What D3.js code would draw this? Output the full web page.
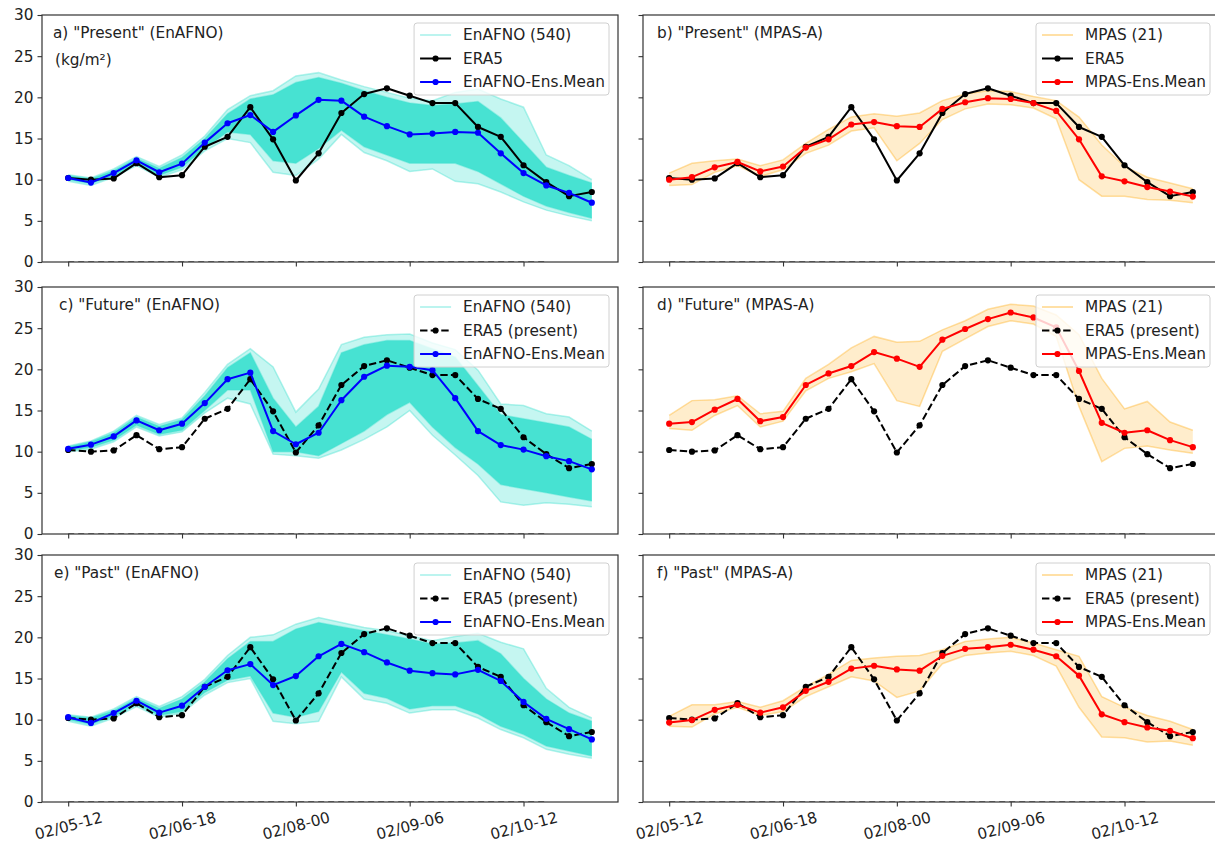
<!DOCTYPE html>
<html>
<head>
<meta charset="utf-8">
<script src="https://cdn.jsdelivr.net/npm/d3@7"></script>
<style>
  body { margin: 0; background: #fff; }
  svg text { font-family: "DejaVu Sans", sans-serif; fill: #222; }
</style>
</head>
<body>
<div id="plot"></div>
<script>
// time axis (6-hourly)
const timeLabels = ["02/05-12","02/05-18","02/06-00","02/06-06","02/06-12","02/06-18",
  "02/07-00","02/07-06","02/07-12","02/07-18","02/08-00","02/08-06","02/08-12","02/08-18",
  "02/09-00","02/09-06","02/09-12","02/09-18","02/10-00","02/10-06","02/10-12","02/10-18",
  "02/11-00","02/11-06"];
const xTickIdx = [0, 5, 10, 15, 20];
const yTicks = [0, 5, 10, 15, 20, 25, 30];
const zeroLine = [0,0,0,0,0,0,0,0,0,0,0,0,0,0,0,0,0,0,0,0,0,0];

// ERA5 (present), same in every panel
const era5 = [10.2,10.0,10.15,12.0,10.3,10.55,14.0,15.2,18.8,14.9,9.9,13.2,18.1,20.4,21.1,20.2,19.3,19.3,16.4,15.2,11.75,9.7,8.0,8.5];

// EnAFNO ensemble means
const enMeanPresent = [10.2,9.65,10.8,12.35,10.9,11.95,14.5,16.85,17.85,15.8,17.8,19.7,19.6,17.65,16.5,15.5,15.6,15.8,15.7,13.2,10.8,9.3,8.4,7.2];
const enMeanFuture  = [10.35,10.85,11.85,13.8,12.6,13.4,15.9,18.8,19.6,12.5,10.9,12.3,16.25,19.1,20.45,20.3,19.9,16.5,12.5,10.8,10.25,9.45,8.85,7.85];
const enMeanPast    = [10.3,9.6,10.8,12.3,10.85,11.7,14.0,16.0,16.75,14.2,15.3,17.7,19.2,18.2,16.95,15.95,15.65,15.5,16.05,14.7,12.15,10.1,8.85,7.6];

// EnAFNO member spread (outer extremes and dense core)
const enPresentHi     = [10.6,10.2,11.3,12.8,11.6,13.0,15.3,18.5,20.2,20.8,22.6,23.0,22.1,21.3,20.6,19.9,19.6,20.6,21.0,19.8,18.8,13.0,11.7,10.0];
const enPresentCoreHi = [10.5,10.1,11.1,12.6,11.4,12.7,15.0,18.0,19.8,20.3,21.8,22.4,21.7,20.8,20.0,19.3,19.0,19.2,19.5,17.5,14.5,11.5,10.5,9.6];
const enPresentCoreLo = [10.0,9.5,10.5,11.9,10.5,11.5,13.8,15.8,15.5,12.3,12.0,13.8,16.0,14.0,13.0,12.0,12.0,12.0,11.0,9.5,8.0,6.8,6.0,5.3];
const enPresentLo     = [9.8,9.3,10.3,11.7,10.3,11.2,13.5,15.0,14.5,10.9,10.5,12.5,15.5,13.3,12.3,11.0,11.3,9.8,9.5,8.5,7.3,6.3,5.6,5.0];

const enFutureHi     = [10.7,11.3,12.5,14.4,13.3,14.1,17.2,20.6,22.5,20.3,14.8,17.6,23.0,23.9,24.2,24.3,23.2,22.4,19.9,15.8,15.6,14.6,14.2,12.5];
const enFutureCoreHi = [10.6,11.2,12.3,14.2,13.1,13.9,16.8,20.2,22.0,16.5,13.0,15.5,22.0,23.0,23.5,23.5,22.5,21.5,18.0,14.5,14.0,13.5,13.0,11.5];
const enFutureCoreLo = [10.1,10.5,11.4,13.2,12.1,12.6,15.0,17.5,17.5,10.0,10.0,9.5,11.0,12.5,14.5,16.0,13.0,10.5,8.5,6.0,5.5,5.0,4.5,4.0];
const enFutureLo     = [10.0,10.3,11.2,13.0,11.9,12.4,14.7,16.5,15.8,9.7,9.5,9.2,10.2,11.5,13.0,15.0,12.0,9.6,7.1,3.9,3.5,3.8,3.6,3.3];

const enPastHi     = [10.6,10.3,11.3,12.8,11.6,12.8,14.9,17.8,20.0,20.3,21.6,22.4,21.8,21.2,20.8,20.2,19.6,20.1,20.5,19.4,18.6,13.8,11.5,10.2];
const enPastCoreHi = [10.5,10.2,11.1,12.6,11.4,12.5,14.6,17.4,19.5,19.5,21.0,21.8,21.3,20.8,20.3,19.8,19.2,19.3,19.6,18.0,15.0,12.5,10.8,9.8];
const enPastCoreLo = [10.0,9.4,10.4,11.8,10.5,11.0,13.3,14.8,15.3,10.8,10.3,11.0,15.8,13.2,12.6,11.3,11.7,11.7,10.7,9.2,8.2,6.8,6.2,5.6];
const enPastLo     = [9.8,9.2,10.2,11.6,10.3,10.8,13.0,14.5,15.0,9.8,9.5,9.8,15.2,12.5,12.0,10.8,11.2,11.2,10.2,8.8,7.8,6.4,5.8,5.3];

// MPAS-A ensemble means
const mpMeanPresent = [10.0,10.3,11.5,12.15,11.0,11.6,13.9,14.9,16.7,17.0,16.5,16.4,18.6,19.4,19.9,19.8,19.3,18.35,14.9,10.4,9.8,9.1,8.55,7.95];
const mpMeanFuture  = [13.4,13.6,15.1,16.4,13.7,14.2,18.1,19.5,20.4,22.1,21.3,20.3,23.6,24.9,26.1,26.9,26.3,25.1,19.8,13.5,12.3,12.6,11.4,10.55];
const mpMeanPast    = [9.65,9.95,11.2,11.8,10.85,11.5,13.5,14.6,16.2,16.55,16.1,15.95,17.75,18.6,18.8,19.1,18.5,17.7,15.35,10.65,9.7,9.05,8.65,7.75];

// MPAS-A member spread
const mpPresentHi = [10.8,12.0,12.3,12.5,11.7,12.4,14.4,16.1,17.6,18.0,17.7,18.1,19.6,20.4,20.8,20.7,20.1,19.6,17.6,14.2,11.6,10.3,9.6,8.9];
const mpPresentLo = [9.3,9.4,10.9,11.7,10.4,11.2,13.2,14.2,15.9,16.3,12.3,14.4,17.3,18.6,19.2,19.1,18.7,17.4,10.0,8.0,8.0,7.6,7.5,7.2];
const mpFutureHi  = [14.4,16.2,16.3,16.8,14.6,14.9,18.9,20.6,22.6,24.0,23.3,23.4,24.8,25.9,27.3,27.9,27.7,26.6,24.2,18.9,15.2,16.1,13.6,12.6];
const mpFutureLo  = [12.8,12.6,14.4,15.6,13.0,13.7,17.4,18.9,19.7,20.7,16.2,15.5,22.2,23.7,25.2,25.9,25.5,24.0,15.5,8.8,10.4,10.7,10.2,9.8];
const mpPastHi    = [10.4,11.8,11.8,12.2,11.5,12.3,14.0,15.5,17.2,17.5,17.7,17.8,18.5,19.5,19.8,20.0,19.3,18.5,17.7,12.8,11.5,10.5,9.8,8.8];
const mpPastLo    = [9.2,9.1,10.7,11.5,10.5,11.0,12.8,14.0,15.2,14.7,12.7,13.5,16.8,17.8,18.1,18.3,17.8,16.5,11.5,7.9,7.8,7.3,7.4,6.9];

// ---- layout ----
const width = 1215;
const height = 844;
const colX = [42, 643];
const rowY = [15, 287, 555];
const pw = 576;
const ph = 247;
const fs = 15.3;

const enColor = '#40E0D0';
const mpColor = '#FFA500';

const panels = [
  { id: 'a', col: 0, row: 0, title: 'a) "Present" (EnAFNO)', tx: 11, kind: 'en', unit: true,
    hi: enPresentHi, coreHi: enPresentCoreHi, coreLo: enPresentCoreLo, lo: enPresentLo, mean: enMeanPresent, dashed: false },
  { id: 'b', col: 1, row: 0, title: 'b) "Present" (MPAS-A)', tx: 14, kind: 'mp',
    hi: mpPresentHi, lo: mpPresentLo, mean: mpMeanPresent, dashed: false },
  { id: 'c', col: 0, row: 1, title: 'c) "Future" (EnAFNO)', tx: 17, kind: 'en',
    hi: enFutureHi, coreHi: enFutureCoreHi, coreLo: enFutureCoreLo, lo: enFutureLo, mean: enMeanFuture, dashed: true },
  { id: 'd', col: 1, row: 1, title: 'd) "Future" (MPAS-A)', tx: 14, kind: 'mp',
    hi: mpFutureHi, lo: mpFutureLo, mean: mpMeanFuture, dashed: true },
  { id: 'e', col: 0, row: 2, title: 'e) "Past" (EnAFNO)', tx: 12, kind: 'en',
    hi: enPastHi, coreHi: enPastCoreHi, coreLo: enPastCoreLo, lo: enPastLo, mean: enMeanPast, dashed: true },
  { id: 'f', col: 1, row: 2, title: 'f) "Past" (MPAS-A)', tx: 14, kind: 'mp',
    hi: mpPastHi, lo: mpPastLo, mean: mpMeanPast, dashed: true }
];

const svg = d3.select('#plot').append('svg')
  .attr('width', width)
  .attr('height', height);

const x = d3.scaleLinear().domain([-1.15, 24.15]).range([0, pw]);
const y = d3.scaleLinear().domain([0, 30]).range([ph, 0]);

const line = d3.line().x((d, i) => x(i)).y(d => y(d));
const band = (hi, lo) => d3.area()
  .x((d, i) => x(i))
  .y0((d, i) => y(lo[i]))
  .y1((d, i) => y(hi[i]))(hi);

const drawSeries = (sel, data, color, dashed) => {
  sel.append('path')
    .attr('d', line(data))
    .attr('fill', 'none')
    .attr('stroke', color)
    .attr('stroke-width', 2)
    .attr('stroke-dasharray', dashed ? '7.4,3.2' : null)
    .attr('stroke-linejoin', 'round');
  sel.selectAll(null).data(data).enter().append('circle')
    .attr('cx', (d, i) => x(i))
    .attr('cy', d => y(d))
    .attr('r', 3.1)
    .attr('fill', color);
};

panels.forEach(p => {
  const g = svg.append('g')
    .attr('transform', `translate(${colX[p.col]}, ${rowY[p.row]})`);

  g.append('clipPath').attr('id', `clip-${p.id}`)
    .append('rect').attr('width', pw).attr('height', ph);
  const plot = g.append('g').attr('clip-path', `url(#clip-${p.id})`);

  // ensemble spread
  if (p.kind === 'en') {
    plot.append('path').attr('d', band(p.hi, p.lo))
      .attr('fill', enColor).attr('fill-opacity', 0.3);
    plot.append('path').attr('d', band(p.coreHi, p.coreLo))
      .attr('fill', enColor).attr('fill-opacity', 0.95);
    [p.hi, p.lo, p.coreHi, p.coreLo].forEach(d => plot.append('path').attr('d', line(d))
      .attr('fill', 'none').attr('stroke', enColor)
      .attr('stroke-opacity', 0.4).attr('stroke-width', 1.5));
  } else {
    plot.append('path').attr('d', band(p.hi, p.lo))
      .attr('fill', mpColor).attr('fill-opacity', 0.2);
    [p.hi, p.lo].forEach(d => plot.append('path').attr('d', line(d))
      .attr('fill', 'none').attr('stroke', mpColor)
      .attr('stroke-opacity', 0.35).attr('stroke-width', 1.5));
  }

  // zero line
  plot.append('path').attr('d', line(zeroLine))
    .attr('fill', 'none').attr('stroke', '#555')
    .attr('stroke-width', 1.5).attr('stroke-dasharray', '6,4');

  drawSeries(plot, era5, '#000', p.dashed);
  drawSeries(plot, p.mean, p.kind === 'en' ? '#0000FF' : '#FF0000', false);

  // axes
  const yAxis = d3.axisLeft(y).tickValues(yTicks).tickSize(4.5).tickPadding(4)
    .tickFormat(p.col === 0 ? d3.format('d') : '');
  const xAxis = d3.axisBottom(x).tickValues(xTickIdx).tickSize(4.5).tickPadding(4)
    .tickFormat(p.row === 2 ? (i => timeLabels[i]) : '');

  const ya = g.append('g').call(yAxis);
  const xa = g.append('g').attr('transform', `translate(0, ${ph})`).call(xAxis);
  [ya, xa].forEach(a => {
    a.select('.domain').remove();
    a.selectAll('line').attr('stroke', '#333').attr('stroke-width', 1.1);
    a.selectAll('text').attr('font-size', fs).attr('fill', '#222');
  });
  xa.selectAll('text')
    .attr('y', 0).attr('dy', 0)
    .attr('text-anchor', 'middle')
    .attr('dominant-baseline', 'central')
    .attr('transform', 'translate(0, 24) rotate(-15)');

  g.append('rect')
    .attr('width', pw).attr('height', ph)
    .attr('fill', 'none').attr('stroke', '#333').attr('stroke-width', 1.2);

  // titles
  g.append('text').attr('x', p.tx).attr('y', 23)
    .attr('font-size', fs).text(p.title);
  if (p.unit) {
    g.append('text').attr('x', 13).attr('y', 50)
      .attr('font-size', fs).text('(kg/m²)');
  }

  // legend
  const model = p.kind === 'en' ? 'EnAFNO' : 'MPAS';
  const items = [
    { label: p.kind === 'en' ? 'EnAFNO (540)' : 'MPAS (21)', color: p.kind === 'en' ? enColor : mpColor, member: true },
    { label: p.dashed ? 'ERA5 (present)' : 'ERA5', color: '#000', dashed: p.dashed },
    { label: `${model}-Ens.Mean`, color: p.kind === 'en' ? '#0000FF' : '#FF0000' }
  ];
  const leg = g.append('g');
  const box = leg.append('rect');
  const rows = leg.selectAll('.leg-row').data(items).enter().append('g')
    .attr('class', 'leg-row')
    .attr('transform', (d, i) => `translate(6, ${12 + i * 23.5})`);
  rows.append('line')
    .attr('x1', 0).attr('x2', 31)
    .attr('stroke', d => d.color)
    .attr('stroke-opacity', d => d.member ? 0.35 : 1)
    .attr('stroke-width', 2)
    .attr('stroke-dasharray', d => d.dashed ? '7.4,3.2' : null);
  rows.filter(d => !d.member).append('circle')
    .attr('cx', 15.5).attr('r', 3.1).attr('fill', d => d.color);
  rows.append('text')
    .attr('x', 43).attr('dominant-baseline', 'central')
    .attr('font-size', fs).text(d => d.label);
  let maxW = 0;
  rows.selectAll('text').each(function() { maxW = Math.max(maxW, this.getComputedTextLength()); });
  const boxW = 6 + 43 + maxW + 4;
  box.attr('width', boxW).attr('height', 72).attr('rx', 3)
    .attr('fill', '#fff').attr('fill-opacity', 0.8)
    .attr('stroke', '#d0d0d0').attr('stroke-width', 1);
  leg.attr('transform', `translate(${pw - 9 - boxW}, 8)`);
});
</script>
</body>
</html>
